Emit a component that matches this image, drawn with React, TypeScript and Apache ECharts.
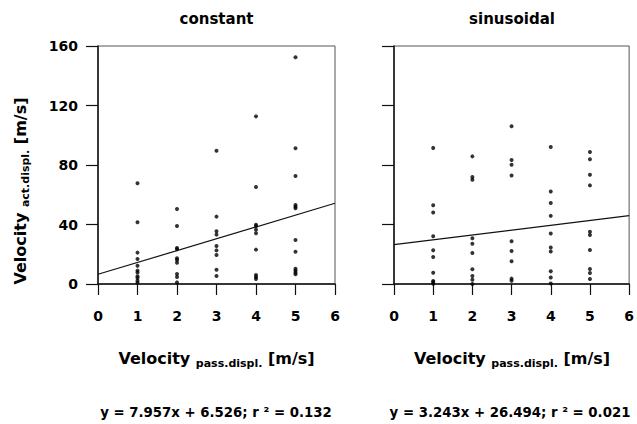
import React, { useEffect, useRef } from "react";
import * as echarts from "echarts";

// x categories (passive displacement velocity, m/s)
const xValues = [1, 2, 3, 4, 5];

// active displacement velocity values for each x (constant condition)
const constantY: number[][] = [
  [67.7, 41.5, 21.1, 16.8, 12.3, 9.0, 7.8, 5.2, 4.0, 2.2, 0.9],
  [50.4, 39.0, 24.2, 23.3, 17.3, 16.1, 14.3, 6.7, 4.7, 1.1],
  [89.6, 45.3, 35.4, 33.2, 25.5, 22.6, 19.5, 9.6, 5.4],
  [112.7, 65.2, 39.9, 38.8, 36.5, 34.1, 23.1, 6.1, 4.7, 3.4],
  [152.4, 91.2, 72.6, 53.1, 52.0, 50.9, 29.6, 21.7, 10.3, 9.0, 7.8, 6.5],
];

// sinusoidal condition
const sinusoidalY: number[][] = [
  [91.5, 53.0, 48.1, 32.1, 22.7, 18.2, 7.6, 2.0, 1.3, 0.2],
  [85.8, 71.9, 70.1, 30.8, 27.0, 20.9, 9.9, 5.4, 2.9, 0.0],
  [106.1, 83.4, 80.2, 73.0, 28.8, 22.2, 15.3, 3.6, 2.2],
  [92.1, 62.2, 54.4, 45.8, 33.9, 24.5, 21.8, 8.5, 4.3, 0.4],
  [88.8, 83.8, 73.5, 66.3, 35.1, 33.0, 22.9, 10.1, 7.4, 3.4],
];

// regression fits
const constantFit = { slope: 7.957, intercept: 6.526, r2: "0.132" };
const sinusoidalFit = { slope: 3.243, intercept: 26.494, r2: "0.021" };

const panelTitles = ["constant", "sinusoidal"];
const xTicks = [0, 1, 2, 3, 4, 5, 6];
const yTicks = [0, 40, 80, 120, 160];

const FONT = "DejaVu Sans";

function toPoints(groups: number[][]) {
  const pts: number[][] = [];
  groups.forEach((g, i) => g.forEach((v) => pts.push([xValues[i], v])));
  return pts;
}

function fitLine(fit: { slope: number; intercept: number }) {
  const x0 = xTicks[0];
  const x1 = xTicks[xTicks.length - 1];
  return [
    [x0, fit.slope * x0 + fit.intercept],
    [x1, fit.slope * x1 + fit.intercept],
  ];
}

function eqText(fit: { slope: number; intercept: number; r2: string }) {
  return `y = ${fit.slope.toFixed(3)}x + ${fit.intercept.toFixed(3)}; r \u00b2 = ${fit.r2}`;
}

const nameRich = {
  a: { fontSize: 16, fontWeight: "bold", fontFamily: FONT, lineHeight: 22, fill: "#000" },
  b: {
    fontSize: 11,
    fontWeight: "bold",
    fontFamily: FONT,
    lineHeight: 12,
    verticalAlign: "bottom",
    fill: "#000",
  },
};

export default function App() {
  const ref = useRef<HTMLDivElement>(null);
  useEffect(() => {
    if (!ref.current) return;
    const chart = echarts.init(ref.current, null, { renderer: "svg" });
    const grids = [
      { left: 98, top: 46, width: 237, height: 238 },
      { left: 394, top: 46, width: 236, height: 238 },
    ];
    const centers = grids.map((g) => g.left + g.width / 2);
    const eqCenters = [216, 510];

    const xAxis = grids.map((_, i) => ({
      type: "value",
      gridIndex: i,
      min: xTicks[0],
      max: xTicks[xTicks.length - 1],
      interval: 1,
      splitLine: { show: false },
      axisLine: { show: true, onZero: false, lineStyle: { color: "#111", width: 1.5 } },
      axisTick: { show: true, length: 11, lineStyle: { color: "#111", width: 1.2 } },
      axisLabel: {
        show: true,
        margin: 25,
        fontSize: 14,
        fontWeight: "bold",
        fontFamily: FONT,
        color: "#000",
      },
    }));
    const yAxis = grids.map((_, i) => ({
      type: "value",
      gridIndex: i,
      min: yTicks[0],
      max: yTicks[yTicks.length - 1],
      interval: 40,
      splitLine: { show: false },
      axisLine: { show: true, onZero: false, lineStyle: { color: "#111", width: 1.5 } },
      axisTick: { show: true, length: 12, lineStyle: { color: "#111", width: 1.2 } },
      axisLabel: {
        show: i === 0,
        margin: 20,
        fontSize: 14,
        fontWeight: "bold",
        fontFamily: FONT,
        color: "#000",
      },
    }));

    const series: any[] = [];
    [constantY, sinusoidalY].forEach((d, i) => {
      series.push({
        type: "scatter",
        xAxisIndex: i,
        yAxisIndex: i,
        data: toPoints(d),
        symbol: "circle",
        symbolSize: 4,
        itemStyle: { color: "#000" },
      });
    });
    [constantFit, sinusoidalFit].forEach((f, i) => {
      series.push({
        type: "line",
        xAxisIndex: i,
        yAxisIndex: i,
        data: fitLine(f),
        symbol: "none",
        lineStyle: { color: "#111", width: 1.2 },
      });
    });

    const graphic: any[] = [];
    panelTitles.forEach((t, i) => {
      graphic.push({
        type: "text",
        x: centers[i],
        y: 19,
        style: {
          text: t,
          align: "center",
          verticalAlign: "middle",
          font: `bold 15px "${FONT}"`,
          fill: "#000",
        },
      });
      graphic.push({
        type: "text",
        x: centers[i],
        y: 358,
        style: {
          text: "{a|Velocity }{b|pass.displ.}{a| [m/s]}",
          rich: nameRich,
          align: "center",
          verticalAlign: "middle",
        },
      });
    });
    [constantFit, sinusoidalFit].forEach((f, i) => {
      graphic.push({
        type: "text",
        x: eqCenters[i],
        y: 412,
        style: {
          text: eqText(f),
          align: "center",
          verticalAlign: "middle",
          font: `bold 13.3px "${FONT}"`,
          fill: "#000",
        },
      });
    });
    graphic.push({
      type: "text",
      x: 20,
      y: 191,
      rotation: Math.PI / 2,
      style: {
        text: "{a|Velocity }{b|act.displ.}{a| [m/s]}",
        rich: nameRich,
        align: "center",
        verticalAlign: "middle",
      },
    });

    chart.setOption({
      animation: false,
      backgroundColor: "#fff",
      grid: grids.map((g) => ({
        ...g,
        show: true,
        borderColor: "#555",
        borderWidth: 1,
        backgroundColor: "transparent",
        containLabel: false,
      })),
      xAxis,
      yAxis,
      series,
      graphic,
    });
    return () => chart.dispose();
  }, []);
  return (
    <div
      ref={ref}
      style={{ position: "fixed", left: 0, top: 0, width: 637, height: 424 }}
    />
  );
}
